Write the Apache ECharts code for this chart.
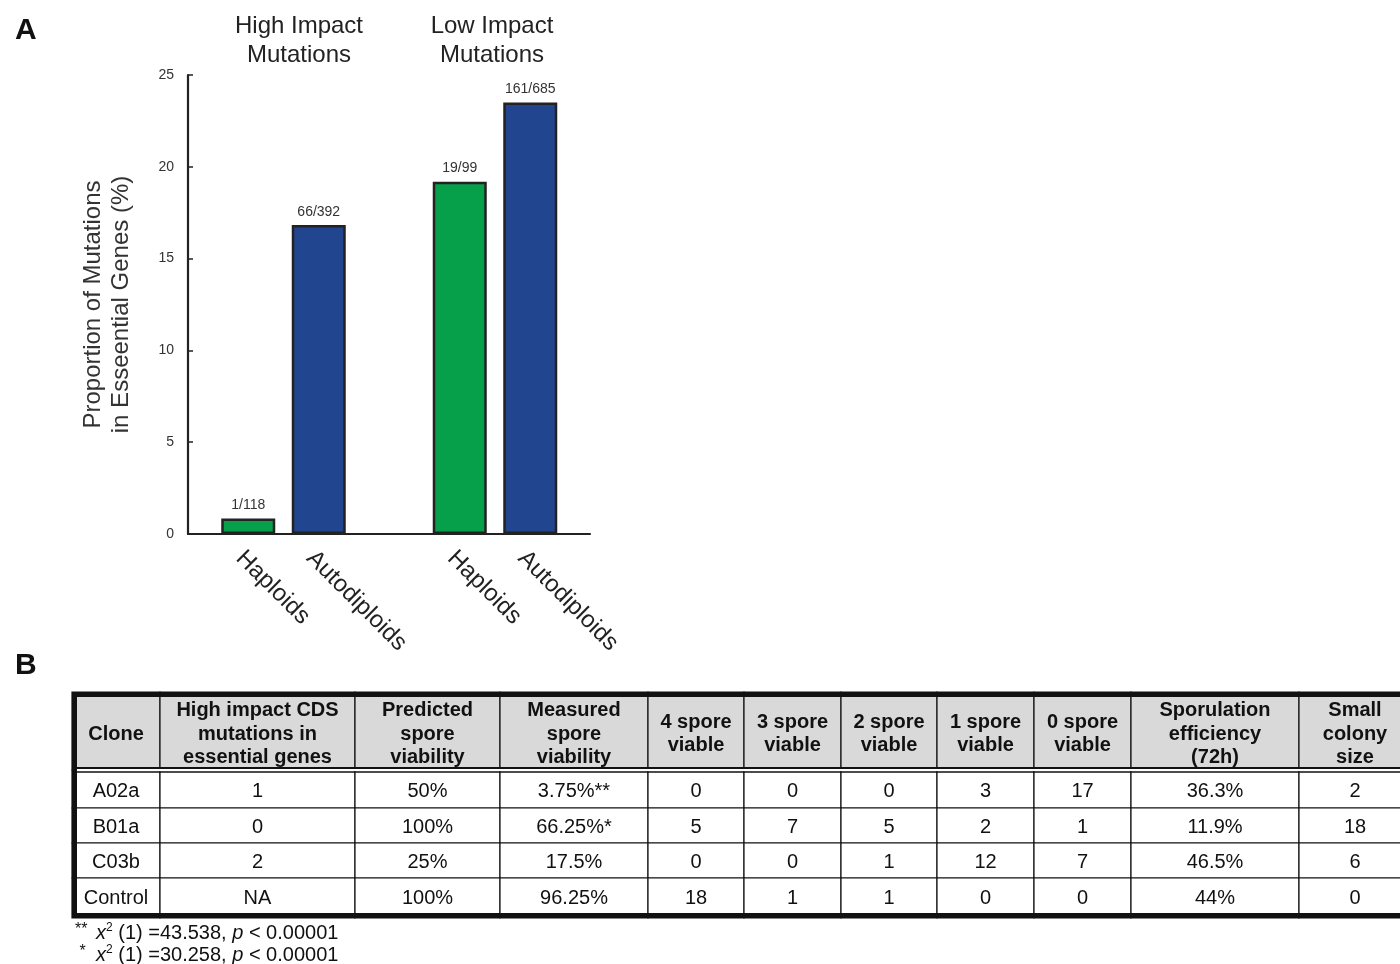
<!DOCTYPE html>
<html>
<head>
<meta charset="utf-8">
<script src="https://cdn.jsdelivr.net/npm/echarts@6/dist/echarts.min.js"></script>
<style>
  html, body { margin: 0; padding: 0; background: #fff; }
  #chart { width: 1400px; height: 964px; }
</style>
</head>
<body>
<div id="chart"></div>
<script>
// ---- Panel A: share of mutations that hit essential genes ----
const barCategories = ['Haploids', 'Autodiploids', '', 'Haploids', 'Autodiploids'];
const essentialCounts = [1, 66, null, 19, 161];
const totalCounts = [118, 392, null, 99, 685];
const yTicks = [0, 5, 10, 15, 20, 25];
const groupTitles = ['High Impact\nMutations', 'Low Impact\nMutations'];
const yAxisTitle = 'Proportion of Mutations\nin Esseential Genes (%)';

// ---- Panel B: tetrad dissection summary ----
const tableHeaders = [
  'Clone', 'High impact CDS\nmutations in\nessential genes', 'Predicted\nspore\nviability',
  'Measured\nspore\nviability', '4 spore\nviable', '3 spore\nviable', '2 spore\nviable',
  '1 spore\nviable', '0 spore\nviable', 'Sporulation\nefficiency\n(72h)', 'Small\ncolony\nsize'
];
const clones = ['A02a', 'B01a', 'C03b', 'Control'];
const highImpactEssential = ['1', '0', '2', 'NA'];
const predictedViability = ['50%', '100%', '25%', '100%'];
const measuredViability = ['3.75%**', '66.25%*', '17.5%', '96.25%'];
const viable4 = ['0', '5', '0', '18'];
const viable3 = ['0', '7', '0', '1'];
const viable2 = ['0', '5', '1', '1'];
const viable1 = ['3', '2', '12', '0'];
const viable0 = ['17', '1', '7', '0'];
const sporulation = ['36.3%', '11.9%', '46.5%', '44%'];
const smallColony = ['2', '18', '6', '0'];
const footnotes = [
  { marks: '**', stat: '43.538', p: '0.00001' },
  { marks: ' *', stat: '30.258', p: '0.00001' }
];

// ---- layout and style ----
const FONT = '"Liberation Sans", Arial, Helvetica, sans-serif';
const barColors = ['#07a04a', '#21468f', '#fff', '#07a04a', '#21468f'];
const colWidths = [88, 195, 145, 148, 96, 97, 96, 97, 97, 168, 112];
const rowHeights = [78, 38, 35, 35, 40];

const cumulative = arr => arr.reduce((acc, w) => { acc.push(acc[acc.length - 1] + w); return acc; }, [0]);
const colEdges = cumulative(colWidths);
const rowEdges = cumulative(rowHeights);
const tableW = colEdges[colEdges.length - 1];
const tableH = rowEdges[rowEdges.length - 1];

const percents = essentialCounts.map((n, i) => n == null ? null : n / totalCounts[i] * 100);

const tableRows = [tableHeaders].concat(clones.map((c, i) => [
  c, highImpactEssential[i], predictedViability[i], measuredViability[i],
  viable4[i], viable3[i], viable2[i], viable1[i], viable0[i], sporulation[i], smallColony[i]
]));
const cellData = [];
tableRows.forEach((row, r) => row.forEach((_, c) => cellData.push([c, r])));

function renderCell(params, api) {
  const c = api.value(0), r = api.value(1);
  const p0 = api.coord([colEdges[c], rowEdges[r]]);
  const p1 = api.coord([colEdges[c + 1], rowEdges[r + 1]]);
  const header = r === 0;
  return {
    type: 'group',
    children: [
      {
        type: 'rect',
        shape: { x: p0[0], y: p0[1], width: p1[0] - p0[0], height: p1[1] - p0[1] },
        style: { fill: header ? '#d9d9d9' : '#fff', stroke: '#111', lineWidth: 1.2 }
      },
      {
        type: 'text',
        style: {
          text: tableRows[r][c],
          x: (p0[0] + p1[0]) / 2,
          y: (p0[1] + p1[1]) / 2 + (header ? 3 : (r === rowHeights.length - 1 ? 0 : 2)),
          align: 'center',
          verticalAlign: 'middle',
          fill: '#111',
          fontFamily: FONT,
          fontSize: 20,
          fontWeight: header ? 'bold' : 'normal',
          lineHeight: 23.5
        }
      }
    ]
  };
}

function renderFrame(params, api) {
  const tl = api.coord([0, 0]);
  const br = api.coord([tableW, tableH]);
  const hy = api.coord([0, rowEdges[1]])[1];
  const black = { stroke: '#111', lineWidth: 5 };
  return {
    type: 'group',
    children: [
      { type: 'line', shape: { x1: tl[0] + 5, y1: hy, x2: br[0], y2: hy }, style: { stroke: '#fff', lineWidth: 2.5 } },
      { type: 'line', shape: { x1: tl[0], y1: hy - 2, x2: br[0], y2: hy - 2 }, style: { stroke: '#111', lineWidth: 2 } },
      { type: 'line', shape: { x1: tl[0], y1: hy + 2, x2: br[0], y2: hy + 2 }, style: { stroke: '#111', lineWidth: 1.6 } },
      { type: 'line', shape: { x1: tl[0], y1: tl[1] + 2.5, x2: br[0], y2: tl[1] + 2.5 }, style: black },
      { type: 'line', shape: { x1: tl[0] + 2.5, y1: tl[1], x2: tl[0] + 2.5, y2: br[1] }, style: black },
      { type: 'line', shape: { x1: tl[0], y1: br[1] - 2.5, x2: br[0], y2: br[1] - 2.5 }, style: black }
    ]
  };
}

const base = { fontFamily: FONT, color: '#111', fontWeight: 'normal' };
const footnoteRich = {
  a: Object.assign({ fontSize: 16, verticalAlign: 'top', lineHeight: 22, width: 21 }, base),
  i: Object.assign({ fontSize: 20, fontStyle: 'italic', lineHeight: 22 }, base),
  s: Object.assign({ fontSize: 12, verticalAlign: 'top', lineHeight: 10 }, base),
  n: Object.assign({ fontSize: 20, lineHeight: 22 }, base)
};

const chart = echarts.init(document.getElementById('chart'));
chart.setOption({
  animation: false,
  backgroundColor: '#fff',
  textStyle: { fontFamily: FONT },
  title: [
    { text: 'A', left: 10, top: 11, textStyle: { fontSize: 30, fontWeight: 'bold', color: '#111', fontFamily: FONT } },
    { text: 'B', left: 10, top: 646, textStyle: { fontSize: 30, fontWeight: 'bold', color: '#111', fontFamily: FONT } },
    { text: groupTitles[0], left: 294, top: 7, textAlign: 'center',
      textStyle: { fontSize: 24, lineHeight: 29, fontWeight: 'normal', color: '#222', fontFamily: FONT } },
    { text: groupTitles[1], left: 487, top: 7, textAlign: 'center',
      textStyle: { fontSize: 24, lineHeight: 29, fontWeight: 'normal', color: '#222', fontFamily: FONT } }
  ].concat(footnotes.map((f, k) => ({
    text: '{a|' + f.marks + '}{i|x}{s|2}{n| (1) =' + f.stat + ', }{i|p}{n| < ' + f.p + '}',
    left: 75, top: 922 + k * 22, padding: 0,
    textStyle: Object.assign({ fontSize: 20, rich: footnoteRich }, base)
  }))),
  grid: [
    { left: 188, top: 75, width: 402, height: 459, outerBoundsMode: 'none' },
    { left: 213, top: 75, width: 352.5, height: 459, outerBoundsMode: 'none' },
    { left: 72, top: 692, width: tableW, height: tableH, outerBoundsMode: 'none' }
  ],
  xAxis: [
    { gridIndex: 0, type: 'value', min: 0, max: 1,
      axisLine: { show: true, onZero: false, lineStyle: { color: '#222', width: 2.2 } },
      axisTick: { show: false }, axisLabel: { show: false }, splitLine: { show: false } },
    { gridIndex: 1, type: 'category', data: barCategories,
      axisLine: { show: false }, axisTick: { show: false }, splitLine: { show: false },
      axisLabel: { interval: 0, rotate: -45, fontSize: 24, color: '#222', margin: 12,
        align: 'left', verticalAlign: 'top', fontFamily: FONT } },
    { gridIndex: 2, type: 'value', min: 0, max: tableW, show: false }
  ],
  yAxis: [
    { gridIndex: 0, type: 'value', min: yTicks[0], max: yTicks[yTicks.length - 1], interval: yTicks[1] - yTicks[0],
      axisLine: { show: true, onZero: false, lineStyle: { color: '#222', width: 2.2 } },
      axisTick: { show: true, inside: true, length: 5, lineStyle: { color: '#222', width: 1.5 } },
      axisLabel: { fontSize: 14, color: '#333', margin: 14, fontFamily: FONT },
      splitLine: { show: false },
      name: yAxisTitle, nameLocation: 'middle', nameRotate: 90, nameGap: 53,
      nameTextStyle: { fontSize: 24, lineHeight: 28, color: '#333', fontFamily: FONT } },
    { gridIndex: 1, type: 'value', min: yTicks[0], max: yTicks[yTicks.length - 1], show: false },
    { gridIndex: 2, type: 'value', min: 0, max: tableH, inverse: true, show: false }
  ],
  series: [
    {
      type: 'bar', xAxisIndex: 1, yAxisIndex: 1, barWidth: 54,
      data: percents.map((v, i) => v == null ? '-' : { value: v, itemStyle: { color: barColors[i] } }),
      itemStyle: { borderColor: '#222', borderWidth: 2.5 },
      label: {
        show: true, position: 'top', distance: 6, fontSize: 14, color: '#333', fontFamily: FONT,
        formatter: p => essentialCounts[p.dataIndex] + '/' + totalCounts[p.dataIndex]
      }
    },
    { type: 'custom', xAxisIndex: 2, yAxisIndex: 2, clip: false, data: cellData, renderItem: renderCell, z: 2 },
    { type: 'custom', xAxisIndex: 2, yAxisIndex: 2, clip: false, data: [[0, 0]], renderItem: renderFrame, z: 3 }
  ]
});
</script>
</body>
</html>
